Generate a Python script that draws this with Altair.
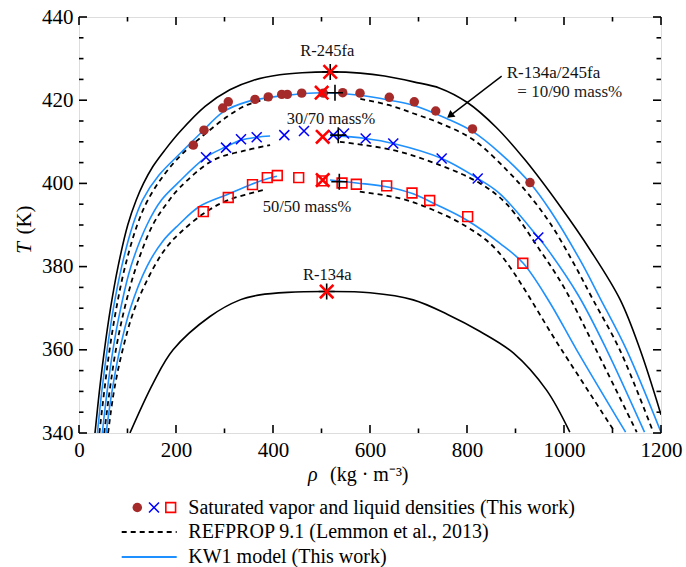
import altair as alt
import pandas as pd

# ---------------- saturation envelopes: density (kg/m3) vs temperature (K) ----------------
# pure fluids (REFPROP, solid black)
r245fa_rho = [33, 42, 52.5, 65, 80.5, 100.5, 118, 133, 152, 177, 208, 260, 311, 360, 414, 460, 519, 580, 630, 690, 744, 800, 860, 920, 992, 1054, 1116, 1157, 1200]
r245fa_T = [340, 350, 360, 370, 380, 390, 396, 400, 404, 408, 412.4, 418.5, 422.5, 424.8, 426.1, 426.6, 426.8, 426.5, 425.8, 424.4, 422.9, 419.5, 413.5, 405.6, 394.5, 384, 372, 360, 344.4]

r134a_rho = [105, 153, 194, 270, 332, 373, 430, 511, 600, 689, 760, 827, 896, 964, 1012]
r134a_T = [340, 352, 360, 368, 372, 373.2, 373.8, 374.0, 373.7, 372, 368.5, 364.4, 359.2, 350.3, 340.2]

# KW1 model (blue)
kw_10_rho = [38, 47, 58, 71, 88, 111, 131, 165, 212, 250, 297.5, 345.8, 414, 504, 579, 641, 689, 758, 813, 868, 930, 971, 1033, 1074, 1129, 1200]
kw_10_T = [340, 350, 360, 370, 380, 390, 396, 402, 407.6, 412, 417.2, 419.6, 421.0, 421.8, 421.2, 420.0, 418.8, 415.6, 412.4, 407.3, 400.1, 393.6, 381.6, 372.5, 360, 340.2]

kw_30_left_rho = [48, 58, 70, 86, 107, 140, 170, 203, 262, 303, 334, 366, 394]
kw_30_left_T = [340, 350, 360, 370, 380, 390, 396, 400, 406.3, 408.8, 410.4, 411.1, 411.4]
kw_30_right_rho = [517.5, 591, 648, 748, 822, 868, 947, 964, 1030, 1088, 1166]
kw_30_right_T = [411.6, 410.8, 409.6, 406, 401.2, 397.5, 387, 384.5, 373, 360, 340.2]

kw_50_left_rho = [56, 68, 84, 106, 140, 172, 205, 249, 307, 356, 388, 408]
kw_50_left_T = [340, 350, 360, 370, 380, 386, 390, 394.5, 397.4, 399.8, 401.1, 401.7]
kw_50_right_rho = [517.5, 572.6, 634, 689, 735, 799, 868, 916, 970, 1026, 1127]
kw_50_right_T = [400.8, 400.1, 399.2, 397.5, 395, 391.2, 385.6, 380.8, 371.5, 360, 340.2]

# REFPROP 9.1 mixtures (dashed black)
rp_10_left_rho = [42, 52, 63, 77, 95, 120, 142, 175, 212, 256, 305, 345, 385]
rp_10_left_T = [340, 350, 360, 370, 380, 390, 396, 402, 407, 411.5, 416, 418.8, 420.2]
rp_10_right_rho = [580, 640, 690, 744, 813, 882, 926, 971, 1019, 1060, 1115, 1184]
rp_10_right_T = [420.3, 418.8, 416.8, 414.5, 410.5, 403.2, 397.5, 390.5, 381, 372, 360, 340.2]

rp_30_left_rho = [52, 63, 76, 94, 118, 152, 180, 208, 277, 346, 394]
rp_30_left_T = [340, 350, 360, 370, 380, 390, 395, 399, 405.6, 408, 409.2]
rp_30_right_rho = [538, 648, 744, 827, 882, 950, 1000, 1064, 1150]
rp_30_right_T = [410, 408, 404.4, 400, 395, 384, 375, 360.5, 340.2]

rp_50_left_rho = [60, 72, 90, 115, 155, 183, 212, 260, 308, 387]
rp_50_left_T = [340, 350, 360, 370, 380, 385, 388.5, 393, 396, 398.6]
rp_50_right_rho = [579, 662, 730.5, 799, 861, 995, 1105]
rp_50_right_T = [398, 396.4, 393.6, 389.6, 384, 360, 340.2]

# ---------------- measured saturated densities (this work) ----------------
m10_rho = [235.7, 257.7, 296.3, 307.8, 362.9, 390.3, 418.0, 429.5, 459.2, 503.7, 543.7, 579.4, 639.8, 691.3, 735.5, 811.3, 929.9]
m10_T = [409.2, 412.8, 418.1, 419.6, 420.2, 420.8, 421.4, 421.4, 421.7, 421.7, 421.8, 421.7, 420.7, 419.6, 417.4, 413.1, 400.2]

m30_rho = [261.9, 303.1, 334.0, 366.4, 423.3, 463.9, 524.3, 546.4, 591.1, 648.0, 747.8, 822.1, 947.0]
m30_T = [406.3, 408.6, 410.6, 411.1, 411.6, 412.6, 411.6, 412.0, 410.8, 409.6, 406.0, 401.2, 387.0]

m50_rho = [256.3, 307.8, 357.7, 388.2, 408.9, 453.0, 501.0, 542.3, 571.8, 634.4, 686.6, 723.1, 801.4, 915.1]
m50_T = [393.2, 396.6, 399.7, 401.4, 401.9, 401.4, 400.6, 400.1, 399.8, 399.4, 397.7, 395.9, 392.0, 380.8]

# critical points: this work (red x) and REFPROP (black +)
crit_rho = [518, 500.4, 502.5, 502.5, 510.7]
crit_T = [426.8, 421.8, 411.2, 400.8, 374.0]
rp_crit_rho = [518, 527.8, 534.6, 536.7, 510.7]
rp_crit_T = [426.8, 421.8, 411.6, 400.4, 374.0]

# annotations
ann_text = ["R-245fa", "30/70 mass%", "50/50 mass%", "R-134a"]
ann_rho = [512, 519.6, 470, 512]
ann_T = [431.8, 415.5, 394.3, 378.0]

FONT = "Liberation Serif"
W, H = 582, 416
X_CROSS = "M-1,-1L1,1M-1,1L1,-1"
PLUS = "M-1,0L1,0M0,-1L0,1"


def seg(name, rho, T):
    return pd.DataFrame({"rho": rho, "T": T, "seg": name, "i": list(range(len(rho)))})


black_df = pd.concat([seg("r245fa", r245fa_rho, r245fa_T), seg("r134a", r134a_rho, r134a_T)])
blue_df = pd.concat([
    seg("kw10", kw_10_rho, kw_10_T),
    seg("kw30l", kw_30_left_rho, kw_30_left_T), seg("kw30r", kw_30_right_rho, kw_30_right_T),
    seg("kw50l", kw_50_left_rho, kw_50_left_T), seg("kw50r", kw_50_right_rho, kw_50_right_T),
])
dash_df = pd.concat([
    seg("rp10l", rp_10_left_rho, rp_10_left_T), seg("rp10r", rp_10_right_rho, rp_10_right_T),
    seg("rp30l", rp_30_left_rho, rp_30_left_T), seg("rp30r", rp_30_right_rho, rp_30_right_T),
    seg("rp50l", rp_50_left_rho, rp_50_left_T), seg("rp50r", rp_50_right_rho, rp_50_right_T),
])

x_enc = alt.X("rho:Q", scale=alt.Scale(domain=[0, 1200], nice=False, zero=False),
              axis=alt.Axis(values=list(range(0, 1201, 200)), format="d", title=None, ticks=False,
                            domain=False, grid=False, labelFont=FONT, labelFontSize=21,
                            labelColor="black", labelPadding=6, labelFlush=False, labelOverlap=False))
y_enc = alt.Y("T:Q", scale=alt.Scale(domain=[340, 440], nice=False, zero=False),
              axis=alt.Axis(values=list(range(340, 441, 20)), format="d", title=None, ticks=False,
                            domain=False, grid=False, labelFont=FONT, labelFontSize=21,
                            labelColor="black", labelPadding=6, labelOverlap=False))


def lines(df, color, dash=None, width=1.6):
    kw = dict(color=color, strokeWidth=width, clip=True, interpolate="catmull-rom")
    if dash:
        kw["strokeDash"] = dash
    return alt.Chart(df).mark_line(**kw).encode(x=x_enc, y=y_enc, detail="seg:N", order="i:Q")


layers = []
layers.append(lines(black_df, "black", width=1.6))
layers.append(lines(dash_df, "black", dash=[5, 4], width=1.8))
layers.append(lines(blue_df, "#1E90FF", width=1.6))

layers.append(alt.Chart(pd.DataFrame({"rho": m10_rho, "T": m10_T})).mark_point(
    shape="circle", filled=True, color="#A52A2A", size=90, opacity=1, clip=True).encode(x=x_enc, y=y_enc))
layers.append(alt.Chart(pd.DataFrame({"rho": m30_rho, "T": m30_T})).mark_point(
    shape=X_CROSS, filled=False, color="#0000FF", size=100, strokeWidth=1.5, opacity=1, clip=True).encode(x=x_enc, y=y_enc))
layers.append(alt.Chart(pd.DataFrame({"rho": m50_rho, "T": m50_T})).mark_point(
    shape="square", filled=False, color="#FF0000", size=95, strokeWidth=1.6, opacity=1, clip=True).encode(x=x_enc, y=y_enc))

layers.append(alt.Chart(pd.DataFrame({"rho": rp_crit_rho, "T": rp_crit_T})).mark_point(
    shape=PLUS, filled=False, color="black", size=256, strokeWidth=1.6, opacity=1).encode(x=x_enc, y=y_enc))
layers.append(alt.Chart(pd.DataFrame({"rho": crit_rho, "T": crit_T})).mark_point(
    shape=X_CROSS, filled=False, color="#FF0000", size=180, strokeWidth=2.6, opacity=1).encode(x=x_enc, y=y_enc))

# curve labels
layers.append(alt.Chart(pd.DataFrame({"rho": ann_rho, "T": ann_T, "t": ann_text})).mark_text(
    font=FONT, fontSize=16.5, color="#111", align="center", baseline="middle").encode(x=x_enc, y=y_enc, text="t:N"))
layers.append(alt.Chart(pd.DataFrame({"rho": [882], "T": [426.5], "t": ["R-134a/245fa"]})).mark_text(
    font=FONT, fontSize=17, color="#111", align="left", baseline="middle").encode(x=x_enc, y=y_enc, text="t:N"))
layers.append(alt.Chart(pd.DataFrame({"rho": [903.7], "T": [422.0], "t": ["= 10/90 mass%"]})).mark_text(
    font=FONT, fontSize=17, color="#222", align="left", baseline="middle").encode(x=x_enc, y=y_enc, text="t:N"))

# arrow to the 10/90 envelope
arrow_df = pd.DataFrame({"rho": [871.5, 762.0], "T": [425.8, 416.0], "i": [0, 1]})
layers.append(alt.Chart(arrow_df).mark_line(color="black", strokeWidth=1.4).encode(x=x_enc, y=y_enc, order="i:Q"))
layers.append(alt.Chart(pd.DataFrame({"rho": [765.0], "T": [416.3]})).mark_point(
    shape="triangle-up", filled=True, color="black", size=70, angle=232, opacity=1).encode(x=x_enc, y=y_enc))

# inward ticks on all four sides
x_major = pd.DataFrame({"rho": list(range(0, 1201, 200))})
x_minor = pd.DataFrame({"rho": list(range(100, 1200, 200))})
y_major = pd.DataFrame({"T": list(range(340, 441, 20))})
y_minor = pd.DataFrame({"T": [t for t in range(345, 440, 5) if t % 20 != 0]})
for df, ln in [(x_major, 8), (x_minor, 4.5)]:
    layers.append(alt.Chart(df).mark_rule(color="black", strokeWidth=1.6).encode(
        x=x_enc, y=alt.value(H), y2=alt.value(H - ln)))
    layers.append(alt.Chart(df).mark_rule(color="black", strokeWidth=1.6).encode(
        x=x_enc, y=alt.value(0), y2=alt.value(ln)))
for df, ln in [(y_major, 8), (y_minor, 4.5)]:
    layers.append(alt.Chart(df).mark_rule(color="black", strokeWidth=1.6).encode(
        y=y_enc, x=alt.value(0), x2=alt.value(ln)))
    layers.append(alt.Chart(df).mark_rule(color="black", strokeWidth=1.6).encode(
        y=y_enc, x=alt.value(W), x2=alt.value(W - ln)))

one = pd.DataFrame({"k": [0]})

# axis titles
layers.append(alt.Chart(one).mark_text(font=FONT, fontSize=21, fontStyle="italic", angle=270,
                                       baseline="middle", align="center").encode(
    x=alt.value(-54), y=alt.value(231), text=alt.value("T")))
layers.append(alt.Chart(one).mark_text(font=FONT, fontSize=21, angle=270,
                                       baseline="middle", align="center").encode(
    x=alt.value(-54), y=alt.value(203), text=alt.value("(K)")))
layers.append(alt.Chart(one).mark_text(font=FONT, fontSize=20, fontStyle="italic",
                                       baseline="middle", align="left").encode(
    x=alt.value(229), y=alt.value(458), text=alt.value("ρ")))
layers.append(alt.Chart(one).mark_text(font=FONT, fontSize=20,
                                       baseline="middle", align="left").encode(
    x=alt.value(251), y=alt.value(458), text=alt.value("(kg · m⁻³)")))

# legend
LX = 42.7
row1, row2, row3 = 490.5, 515, 540
layers.append(alt.Chart(one).mark_point(shape="circle", filled=True, color="#A52A2A", size=90, opacity=1).encode(
    x=alt.value(58.3), y=alt.value(row1)))
layers.append(alt.Chart(one).mark_point(shape=X_CROSS, filled=False, color="#0000FF", size=100, strokeWidth=1.5, opacity=1).encode(
    x=alt.value(75), y=alt.value(row1)))
layers.append(alt.Chart(one).mark_point(shape="square", filled=False, color="#FF0000", size=95, strokeWidth=1.6, opacity=1).encode(
    x=alt.value(91.7), y=alt.value(row1)))
layers.append(alt.Chart(one).mark_rule(color="black", strokeWidth=1.8, strokeDash=[5, 4]).encode(
    x=alt.value(LX), x2=alt.value(LX + 55), y=alt.value(row2)))
layers.append(alt.Chart(one).mark_rule(color="#1E90FF", strokeWidth=1.8).encode(
    x=alt.value(LX), x2=alt.value(LX + 55), y=alt.value(row3)))
legend_text = ["Saturated vapor and liquid densities (This work)",
               "REFPROP 9.1 (Lemmon et al., 2013)",
               "KW1 model (This work)"]
for txt, ry in zip(legend_text, [row1, row2, row3]):
    layers.append(alt.Chart(one).mark_text(font=FONT, fontSize=20, align="left", baseline="middle", color="black").encode(
        x=alt.value(109.3), y=alt.value(ry), text=alt.value(txt)))

chart = alt.layer(*layers).properties(
    width=W, height=H,
    padding={"left": 79, "top": 17, "right": 25, "bottom": 134},
    autosize=alt.AutoSizeParams(type="none"),
).configure_view(stroke="black", strokeWidth=3).configure(background="white")

chart.save("out.html", embed_options={"renderer": "svg", "actions": False})
